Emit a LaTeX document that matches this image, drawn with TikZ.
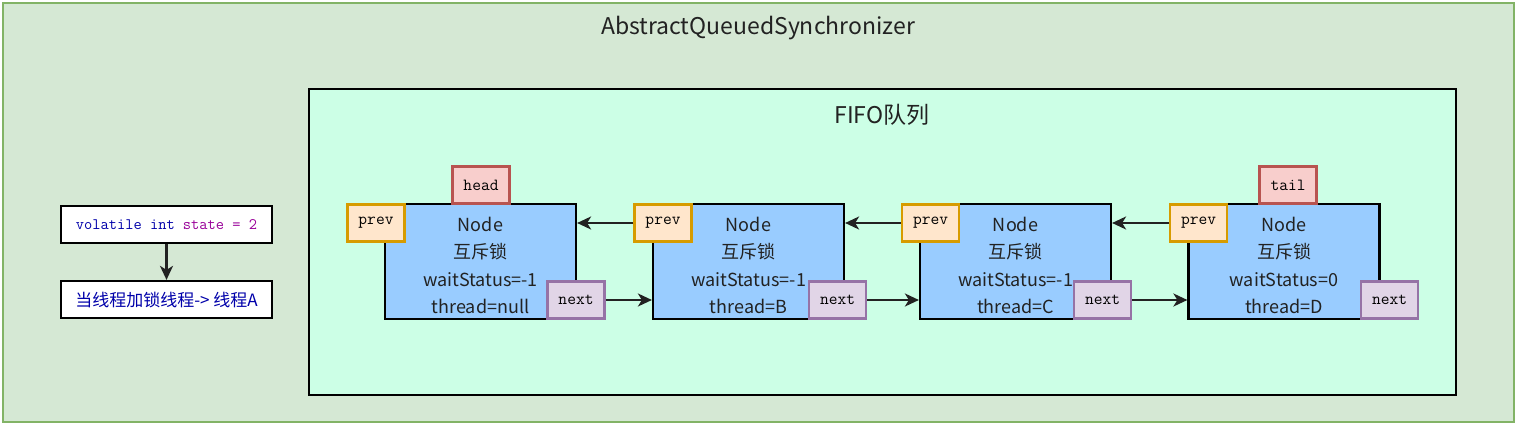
\documentclass[tikz,border=0pt]{standalone}
\usepackage{fontspec}
\setmainfont{Noto Sans CJK SC}
\newfontfamily\cjkf{Noto Sans CJK SC}
\usetikzlibrary{arrows.meta}
\definecolor{outerfill}{HTML}{D5E8D4}
\definecolor{outerdraw}{HTML}{82B366}
\definecolor{innerfill}{HTML}{CCFFE6}
\definecolor{nodefill}{HTML}{99CCFF}
\definecolor{redfill}{HTML}{F8CECC}
\definecolor{reddraw}{HTML}{B85450}
\definecolor{orfill}{HTML}{FFE6CC}
\definecolor{ordraw}{HTML}{D79B00}
\definecolor{pufill}{HTML}{E1D5E7}
\definecolor{pudraw}{HTML}{9673A6}
\definecolor{kwblue}{HTML}{0000AA}
\definecolor{kwpurple}{HTML}{990099}
\definecolor{txt}{HTML}{222222}
\tikzset{
  qnode/.style={draw=black, fill=nodefill, line width=2.2pt, minimum width=191pt, minimum height=115pt, inner sep=0pt},
  qtext/.style={align=center, text=txt, inner sep=0pt, font=\fontsize{18}{27.5}\selectfont},
  tag/.style={line width=2.2pt, minimum width=57pt, minimum height=37pt, inner sep=0pt, font=\ttfamily\fontsize{17}{17}\selectfont},
  headtag/.style={tag, draw=reddraw, fill=redfill},
  prevtag/.style={tag, draw=ordraw, fill=orfill},
  nexttag/.style={tag, draw=pudraw, fill=pufill},
  codebox/.style={draw=black, fill=white, line width=2.2pt, minimum width=211pt, minimum height=37pt, inner sep=0pt},
  arr/.style={draw=txt, line width=2.2pt, -{Stealth[length=14pt,width=13pt,inset=4pt]}},
  title/.style={text=txt, font=\fontsize{23}{23}\selectfont}
}
\begin{document}
\begin{tikzpicture}[x=1pt,y=-1pt]
\useasboundingbox (0,0) rectangle (1517,427);
\fill[white] (0,0) rectangle (1517,427);
\node[draw=outerdraw, fill=outerfill, line width=2.5pt, minimum width=1511pt, minimum height=419pt, inner sep=0pt] (outer) at (758.5,212.5) {};
\node[title] (outertitle) at (758,28) {AbstractQueuedSynchronizer};
\node[draw=black, fill=innerfill, line width=2.2pt, minimum width=1147pt, minimum height=306pt, inner sep=0pt] (inner) at (882.5,242) {};
\node[title] (innertitle) at (882,115) {FIFO队列};

\node[qnode] (n1) at (480.5,261.5) {};
\node[qnode] (n2) at (748.5,261.5) {};
\node[qnode] (n3) at (1015.5,261.5) {};
\node[qnode] (n4) at (1284,261.5) {};
\node[qtext] (t1) at ([yshift=-4pt]n1.center) {Node\\互斥锁\\waitStatus=-1\\thread=null};
\node[qtext] (t2) at ([yshift=-4pt]n2.center) {Node\\互斥锁\\waitStatus=-1\\thread=B};
\node[qtext] (t3) at ([yshift=-4pt]n3.center) {Node\\互斥锁\\waitStatus=-1\\thread=C};
\node[qtext] (t4) at ([yshift=-4pt]n4.center) {Node\\互斥锁\\waitStatus=0\\thread=D};

\node[headtag] (head) at (481,185) {head};
\node[headtag] (tail) at (1288,185) {tail};

\node[prevtag] (p1) at (376,223) {prev};
\node[prevtag] (p2) at (663,223) {prev};
\node[prevtag] (p3) at (930.5,223) {prev};
\node[prevtag] (p4) at (1198.5,223) {prev};

\node[nexttag] (x1) at (576,300) {next};
\node[nexttag] (x2) at (837.5,300) {next};
\node[nexttag] (x3) at (1102.5,300) {next};
\node[nexttag] (x4) at (1389.5,300) {next};

\draw[arr] (p2.west) -- (n1.east |- p2.west);
\draw[arr] (p3.west) -- (n2.east |- p3.west);
\draw[arr] (p4.west) -- (n3.east |- p4.west);
\draw[arr] (x1.east) -- (n2.west |- x1.east);
\draw[arr] (x2.east) -- (n3.west |- x2.east);
\draw[arr] (x3.east) -- (n4.west |- x3.east);

\node[codebox, font=\ttfamily\fontsize{16}{16}\selectfont] (c1) at (166.5,224.5) {\textcolor{kwblue}{volatile int} \textcolor{kwpurple}{state = 2}};
\node[codebox, font=\cjkf\fontsize{17}{17}\selectfont, text=kwblue] (c2) at (166.5,299.5) {当线程加锁线程-> 线程A};
\draw[arr] (c1) -- (c2);
\end{tikzpicture}
\end{document}
